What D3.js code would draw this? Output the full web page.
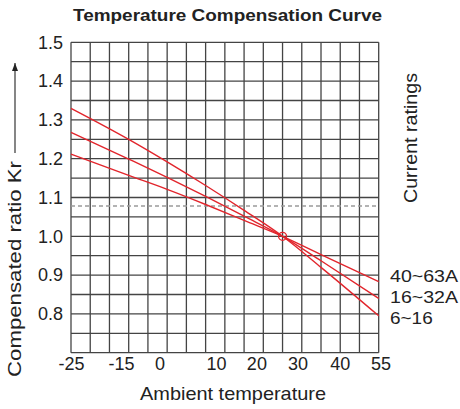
<!DOCTYPE html>
<html>
<head>
<meta charset="utf-8">
<script src="https://cdn.jsdelivr.net/npm/d3@7"></script>
<style>
  body { margin: 0; background: #fff; }
  text { font-family: "Liberation Sans", Arial, Helvetica, sans-serif; fill: #222; }
</style>
</head>
<body>
<div id="chart"></div>
<script>
let temps = [-25, -10, 0, 10, 20, 30, 40, 55]

// compensated ratio Kr for each rating
let kr6to16 = [1.330, 1.250, 1.192, 1.131, 1.067, 1.000, 0.920, 0.795]
let kr16to32 = [1.268, 1.199, 1.152, 1.103, 1.052, 1.000, 0.937, 0.840]
let kr40to63 = [1.212, 1.157, 1.121, 1.082, 1.041, 1.000, 0.953, 0.883]

// legend labels, top to bottom on the right
let ratingNames = ["40~63A", "16~32A", "6~16"]

// x tick labels and where they sit along the temperature axis
let xTickLabels = ["-25", "-15", "0", "10", "20", "30", "40", "55"]
let xTickAt = [-25, -12, -2, 12.7, 23.2, 33.9, 44.9, 55.5]

let yTicks = [0.8, 0.9, 1.0, 1.1, 1.2, 1.3, 1.4, 1.5]

// reference point and dashed level
let refTemp = 30
let refKr = 1.0
let dashedKr = 1.078

let width = 460
let height = 409

let plotLeft = 71
let plotRight = 378.7
let plotTop = 42.3
let plotBottom = 352.7

let gridColor = "#444"
let red = "#e2252c"

let svg = d3.select("#chart")
    .append("svg")
    .attr("width", width)
    .attr("height", height)

svg.append("rect")
    .attr("width", width)
    .attr("height", height)
    .attr("fill", "#fff")

let xScale = d3.scaleLinear()
    .domain([-25, 55])
    .range([plotLeft, plotRight])

let yScale = d3.scaleLinear()
    .domain([0.7, 1.5])
    .range([plotBottom, plotTop])

// grid: every 5 degrees and every 0.05
let grid = svg.append("g").attr("class", "grid")

grid.selectAll(".vline")
    .data(d3.range(-25, 56, 5))
    .enter()
    .append("line")
    .attr("x1", d => xScale(d))
    .attr("x2", d => xScale(d))
    .attr("y1", plotTop)
    .attr("y2", plotBottom)
    .attr("stroke", gridColor)
    .attr("stroke-width", 1.3)

grid.selectAll(".hline")
    .data(d3.range(0, 17).map(i => 0.7 + i * 0.05))
    .enter()
    .append("line")
    .attr("x1", plotLeft)
    .attr("x2", plotRight)
    .attr("y1", d => yScale(d))
    .attr("y2", d => yScale(d))
    .attr("stroke", gridColor)
    .attr("stroke-width", 1.3)

// dashed level line
svg.append("line")
    .attr("x1", plotLeft)
    .attr("x2", plotRight)
    .attr("y1", yScale(dashedKr))
    .attr("y2", yScale(dashedKr))
    .attr("stroke", "#9a9a9a")
    .attr("stroke-width", 1.4)
    .attr("stroke-dasharray", "4,3")

// axes
let xAxis = d3.axisBottom(xScale)
    .tickValues(xTickAt)
    .tickFormat((d, i) => xTickLabels[i])
    .tickSize(0)
    .tickPadding(5)

let yAxis = d3.axisLeft(yScale)
    .tickValues(yTicks)
    .tickFormat(d3.format(".1f"))
    .tickSize(0)
    .tickPadding(8)

svg.append("g")
    .attr("class", "xAxis")
    .attr("transform", `translate(0, ${plotBottom})`)
    .call(xAxis)

svg.append("g")
    .attr("class", "yAxis")
    .attr("transform", `translate(${plotLeft}, 0)`)
    .call(yAxis)

svg.selectAll(".xAxis .domain, .yAxis .domain").remove()
svg.selectAll(".xAxis text, .yAxis text")
    .attr("font-size", 18)
    .attr("font-family", "Liberation Sans, Arial, sans-serif")
    .attr("fill", "#222")

// curves
let line = d3.line()
    .x((d, i) => xScale(temps[i]))
    .y(d => yScale(d))
    .curve(d3.curveMonotoneX)

let series = [kr40to63, kr16to32, kr6to16]

svg.selectAll(".curve")
    .data(series)
    .enter()
    .append("path")
    .attr("class", "curve")
    .attr("d", d => line(d))
    .attr("fill", "none")
    .attr("stroke", red)
    .attr("stroke-width", 1.4)

svg.append("circle")
    .attr("cx", xScale(refTemp))
    .attr("cy", yScale(refKr))
    .attr("r", 4)
    .attr("fill", "none")
    .attr("stroke", red)
    .attr("stroke-width", 1.3)

// rating labels
let labelWidths = [68, 68, 42.7]
svg.selectAll(".rating")
    .data(ratingNames)
    .enter()
    .append("text")
    .attr("class", "rating")
    .attr("x", 390)
    .attr("y", (d, i) => 281.7 + i * 21.2)
    .attr("font-size", 17)
    .attr("textLength", (d, i) => labelWidths[i])
    .attr("lengthAdjust", "spacingAndGlyphs")
    .text(d => d)

// titles
svg.append("text")
    .attr("x", 227.5)
    .attr("y", 21)
    .attr("text-anchor", "middle")
    .attr("font-size", 17)
    .attr("font-weight", "bold")
    .attr("textLength", 309)
    .attr("lengthAdjust", "spacingAndGlyphs")
    .text("Temperature Compensation Curve")

svg.append("text")
    .attr("x", 233)
    .attr("y", 400)
    .attr("text-anchor", "middle")
    .attr("font-size", 19)
    .attr("textLength", 186)
    .attr("lengthAdjust", "spacingAndGlyphs")
    .text("Ambient temperature")

svg.append("text")
    .attr("transform", "translate(21, 377) rotate(-90)")
    .attr("font-size", 19)
    .attr("textLength", 216)
    .attr("lengthAdjust", "spacingAndGlyphs")
    .text("Compensated ratio Kr")

svg.append("text")
    .attr("transform", "translate(417, 203) rotate(-90)")
    .attr("font-size", 18)
    .attr("textLength", 130)
    .attr("lengthAdjust", "spacingAndGlyphs")
    .text("Current ratings")

// arrow beside the y title
svg.append("defs")
    .append("marker")
    .attr("id", "arrowHead")
    .attr("viewBox", "0 0 8 6")
    .attr("refX", 8)
    .attr("refY", 3)
    .attr("markerUnits", "userSpaceOnUse")
    .attr("markerWidth", 8)
    .attr("markerHeight", 6)
    .attr("orient", "auto")
    .append("path")
    .attr("d", "M0,0 L8,3 L0,6 z")
    .attr("fill", "#222")

svg.append("line")
    .attr("x1", 15)
    .attr("x2", 15)
    .attr("y1", 153)
    .attr("y2", 63)
    .attr("stroke", "#222")
    .attr("stroke-width", 1.1)
    .attr("marker-end", "url(#arrowHead)")
</script>
</body>
</html>
